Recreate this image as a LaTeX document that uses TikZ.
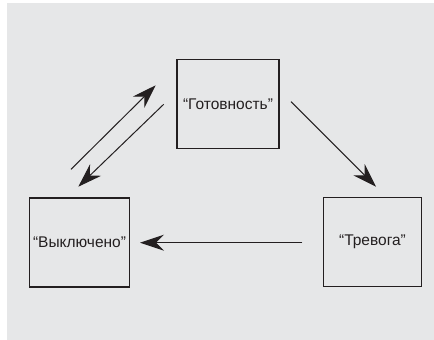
\documentclass[tikz,border=0pt]{standalone}
\usepackage{fontspec}
\setmainfont{Liberation Sans}
\usetikzlibrary{arrows.meta}
\definecolor{bg}{HTML}{E6E7E8}
\definecolor{ink}{HTML}{231F20}
\begin{document}
\begin{tikzpicture}[x=1pt,y=-1pt,
  statebox/.style={draw=ink,line width=1.4pt,minimum width=102pt,minimum height=89pt,inner sep=0pt,font=\fontsize{15.5}{17}\selectfont,text=ink},
  conn/.style={draw=ink,line width=1pt,-{Stealth[length=24pt,width=16pt,inset=8pt]}}]
\useasboundingbox (0,0) rectangle (434,340);
\fill[bg] (7,3) rectangle (434,340);
\node[statebox] (ready) at (228,104.2) {“Готовность”};
\node[statebox,minimum width=99.6pt] (off) at (79.5,242.3) {“Выключено”};
\node[statebox,minimum width=97.6pt] (alarm) at (372.5,241.7) {“Тревога”};
\coordinate (a1s) at (71,169.3);
\coordinate (a1e) at (155.7,85.3);
\coordinate (a2s) at (163.7,104.3);
\coordinate (a2e) at (78.3,186.7);
\coordinate (a3s) at (291,101.7);
\coordinate (a3e) at (376,186.7);
\coordinate (a4s) at (302.3,242.7);
\coordinate (a4e) at (140,242.7);
\draw[conn] (a1s) -- (a1e);
\draw[conn] (a2s) -- (a2e);
\draw[conn] (a3s) -- (a3e);
\draw[conn] (a4s) -- (a4e);
\end{tikzpicture}
\end{document}
